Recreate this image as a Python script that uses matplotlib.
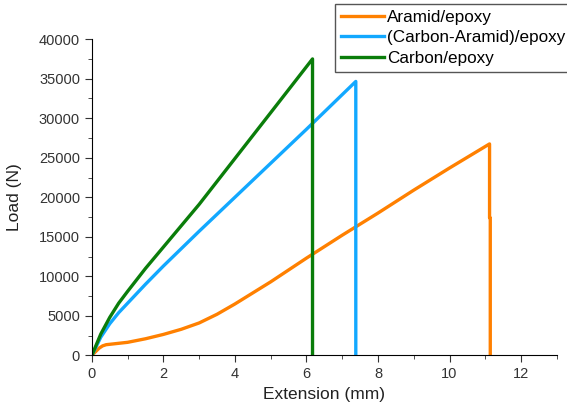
import matplotlib.pyplot as plt
import numpy as np
from matplotlib.ticker import MultipleLocator

plt.rcParams['font.family'] = ['Liberation Sans', 'DejaVu Sans']

# load-extension curves
aramid_x = [0, 0.1, 0.2, 0.3, 0.4, 0.6, 1.0, 1.5, 2.0, 2.5, 3.0, 3.5, 4.0, 4.5, 5.0, 5.5, 6.0, 7.0, 8.0, 9.0, 10.0, 11.12, 11.12, 11.14, 11.14]
aramid_y = [0, 450, 900, 1200, 1350, 1450, 1650, 2100, 2650, 3300, 4100, 5200, 6500, 7900, 9300, 10800, 12300, 15200, 18000, 20900, 23700, 26750, 17400, 17400, 0]

hybrid_x = [0, 0.25, 0.5, 0.75, 1.0, 1.5, 2.0, 3.0, 4.0, 5.0, 6.0, 7.38, 7.38]
hybrid_y = [0, 2300, 4000, 5400, 6600, 9000, 11300, 15700, 20000, 24300, 28600, 34650, 0]

carbon_x = [0, 0.25, 0.5, 0.75, 1.0, 1.5, 2.0, 2.5, 3.0, 3.5, 4.0, 5.0, 6.17, 6.17]
carbon_y = [0, 2700, 4800, 6600, 8100, 11000, 13700, 16400, 19100, 22000, 24900, 30700, 37500, 0]

fig = plt.figure(figsize=(5.67, 4.08), dpi=100)
ax = fig.add_axes([0.162, 0.129, 0.820, 0.775])

ax.plot(aramid_x, aramid_y, color='#FF8000', lw=2.4, label='Aramid/epoxy')
ax.plot(hybrid_x, hybrid_y, color='#12A8FF', lw=2.4, label='(Carbon-Aramid)/epoxy')
ax.plot(carbon_x, carbon_y, color='#0A7D0A', lw=2.4, label='Carbon/epoxy')

ax.set_xlim(0, 13)
ax.set_ylim(0, 40000)
ax.xaxis.set_major_locator(MultipleLocator(2))
ax.xaxis.set_minor_locator(MultipleLocator(1))
ax.yaxis.set_major_locator(MultipleLocator(5000))
ax.yaxis.set_minor_locator(MultipleLocator(2500))
ax.spines['top'].set_visible(False)
ax.spines['right'].set_visible(False)
ax.tick_params(which='major', length=5, labelsize=10.5, colors='#333333', labelcolor='#333333')
ax.tick_params(which='minor', length=3, colors='#333333')
ax.set_xlabel('Extension (mm)', fontsize=12.5, color='#222222')
ax.set_ylabel('Load (N)', fontsize=12.5, color='#222222', labelpad=12)

fig.legend(loc='upper left', bbox_to_anchor=(335 / 567, 1 - 4 / 408), fontsize=12.3,
           fancybox=False, edgecolor='#555555', framealpha=1, handlelength=2.5,
           handletextpad=0.2, labelspacing=0.32, borderpad=0.35, borderaxespad=0)

fig.savefig('out.png', dpi=100)
